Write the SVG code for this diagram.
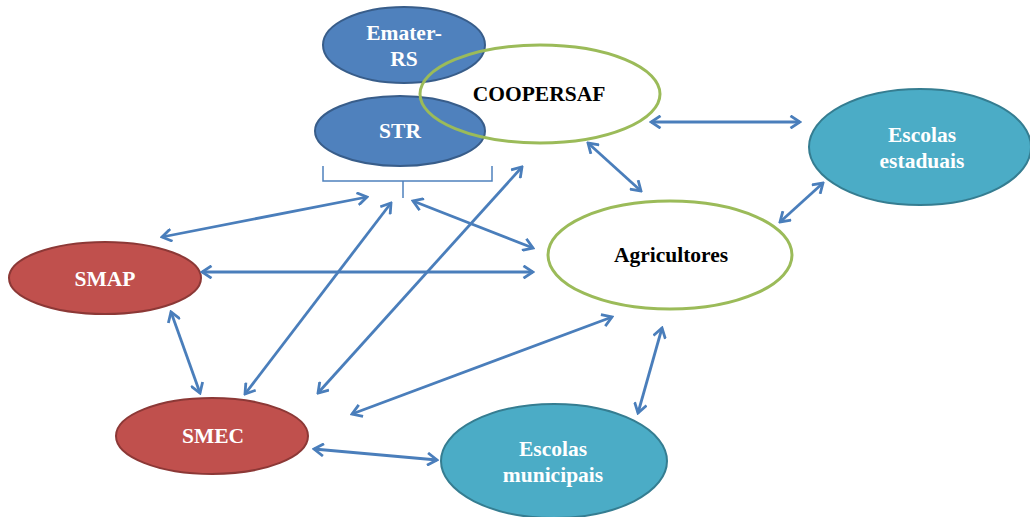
<svg xmlns="http://www.w3.org/2000/svg" width="1030" height="517" viewBox="0 0 1030 517">
<style>
.t{font-family:"Liberation Serif","Times New Roman",serif;font-weight:bold;font-size:21.5px;text-anchor:middle}
.w{fill:#ffffff}
.k{fill:#000000}
.blue{fill:#4F81BD;stroke:#385D8A;stroke-width:2}
.red{fill:#C0504D;stroke:#8C3836;stroke-width:2}
.teal{fill:#4BACC6;stroke:#357D91;stroke-width:2}
.green{fill:none;stroke:#9BBB59;stroke-width:3}
.c{stroke:#4A7EBB;stroke-width:2.8;fill:none;marker-start:url(#ah);marker-end:url(#ah)}
</style>
<defs>
<marker id="ah" markerUnits="userSpaceOnUse" viewBox="0 0 14 14" refX="12" refY="7" markerWidth="14" markerHeight="14" orient="auto-start-reverse">
<path d="M2.5,0.8 L12,7 L2.5,13.2" fill="none" stroke="#4A7EBB" stroke-width="2.8" stroke-linejoin="miter"/>
</marker>
</defs>
<rect width="1030" height="517" fill="#ffffff"/>
<g id="emater">
<ellipse class="blue" cx="404" cy="45" rx="81" ry="38"/>
<text class="t w" x="404" y="40">Emater-</text>
<text class="t w" x="404" y="66">RS</text>
</g>
<g id="str">
<ellipse class="blue" cx="400" cy="131" rx="85" ry="35"/>
<text class="t w" x="400" y="138">STR</text>
</g>
<g id="coopersaf">
<ellipse class="green" cx="540" cy="94" rx="120" ry="49"/>
<text class="t k" x="539" y="101">COOPERSAF</text>
</g>
<g id="bracket">
<path d="M323,166 V181 H492 V166 M403,181 V198" fill="none" stroke="#4F81BD" stroke-width="1.5"/>
</g>
<g id="escolas-estaduais">
<ellipse class="teal" cx="920" cy="147" rx="111" ry="58"/>
<text class="t w" x="922" y="142">Escolas</text>
<text class="t w" x="922" y="168">estaduais</text>
</g>
<g id="agricultores">
<ellipse class="green" cx="670" cy="255" rx="122" ry="54"/>
<text class="t k" x="671" y="262">Agricultores</text>
</g>
<g id="smap">
<ellipse class="red" cx="105" cy="278" rx="96" ry="36"/>
<text class="t w" x="105" y="286">SMAP</text>
</g>
<g id="smec">
<ellipse class="red" cx="212" cy="436" rx="96" ry="38"/>
<text class="t w" x="213" y="443">SMEC</text>
</g>
<g id="escolas-municipais">
<ellipse class="teal" cx="554" cy="461" rx="113" ry="57"/>
<text class="t w" x="553" y="456">Escolas</text>
<text class="t w" x="553" y="482">municipais</text>
</g>
<g id="connectors">
<line class="c" x1="162" y1="237" x2="367" y2="197"/>
<line class="c" x1="391" y1="203" x2="245" y2="394"/>
<line class="c" x1="413" y1="201" x2="533" y2="248"/>
<line class="c" x1="202" y1="272" x2="533" y2="272"/>
<line class="c" x1="171" y1="312" x2="200" y2="393"/>
<line class="c" x1="522" y1="167" x2="318" y2="393"/>
<line class="c" x1="612" y1="317" x2="352" y2="414"/>
<line class="c" x1="314" y1="449" x2="437" y2="460"/>
<line class="c" x1="662" y1="328" x2="638" y2="413"/>
<line class="c" x1="651" y1="122" x2="800" y2="122"/>
<line class="c" x1="588" y1="143" x2="641" y2="191"/>
<line class="c" x1="780" y1="222" x2="823" y2="183"/>
</g>
</svg>
